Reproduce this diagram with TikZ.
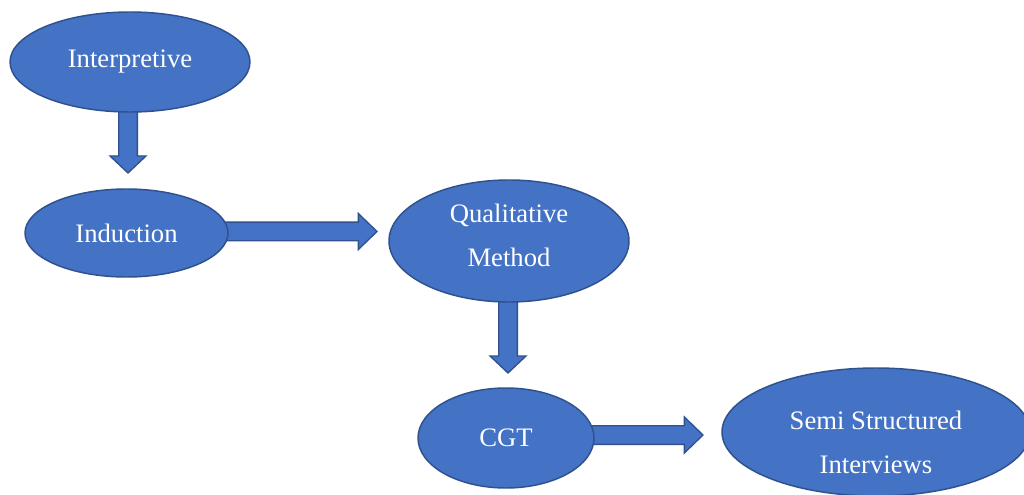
\documentclass[tikz,border=0pt]{standalone}
\usepackage{fontspec}
\setmainfont{Liberation Serif}
\usetikzlibrary{calc,backgrounds,shapes.geometric}

\definecolor{bubblefill}{HTML}{4472C4}
\definecolor{bubbleline}{HTML}{2F528F}

\tikzset{
  bubble/.style={ellipse, draw=bubbleline, line width=1.1pt, fill=bubblefill,
    inner sep=0pt, text=white, align=center,
    font=\fontsize{20}{33}\selectfont},
  bubbletext/.style={text=white, align=center, inner sep=0pt,
    font=\fontsize{20}{33}\selectfont},
  blockarrow/.style={draw=bubbleline, fill=bubblefill, line width=1pt, line join=miter},
}

% block arrow pointing down: shaft starts at the centre of #1, tip at #2
\newcommand\blockdown[2]{%
  \draw[blockarrow] let \p1=(#1), \p2=(#2) in
    (\x2-7pt,\y1) -- (\x2-7pt,\y2+12.75pt) -- (\x2-13.5pt,\y2+12.75pt) -- (\x2,\y2)
    -- (\x2+13.5pt,\y2+12.75pt) -- (\x2+7pt,\y2+12.75pt) -- (\x2+7pt,\y1) -- cycle;}
% block arrow pointing right: shaft starts at the centre of #1, tip at #2
\newcommand\blockright[2]{%
  \draw[blockarrow] let \p1=(#1), \p2=(#2) in
    (\x1,\y2+7pt) -- (\x2-14pt,\y2+7pt) -- (\x2-14pt,\y2+13.5pt) -- (\x2,\y2)
    -- (\x2-14pt,\y2-13.5pt) -- (\x2-14pt,\y2-7pt) -- (\x1,\y2-7pt) -- cycle;}

\begin{document}
\begin{tikzpicture}[x=0.75pt, y=-0.75pt]
  \useasboundingbox (0,0) rectangle (1024,495);

  % stages
  \node[bubble, minimum width=180pt, minimum height=75pt] (interp) at (130,62) {Interpretive};
  \node[bubble, minimum width=152.25pt, minimum height=66pt] (induc) at (126.5,233) {Induction};
  \node[bubble, minimum width=180pt, minimum height=91.5pt,
        label={[bubbletext, yshift=4.5pt]center:Qualitative\\Method}] (qual) at (509,241) {};
  \node[bubble, minimum width=132pt, minimum height=75pt] (cgt) at (506,438) {CGT};
  \node[bubble, minimum width=231pt, minimum height=96pt,
        label={[bubbletext, yshift=-7.5pt]center:Semi Structured\\Interviews}] (semi) at (876,432) {};

  % arrow tips
  \coordinate (tipA) at (128,173);
  \coordinate (tipB) at (377,231.5);
  \coordinate (tipC) at (508,373);
  \coordinate (tipD) at (703,435);

  \begin{scope}[on background layer]
    \fill[white] (0,0) rectangle (1024,495);
    \blockdown{interp}{tipA}
    \blockright{induc}{tipB}
    \blockdown{qual}{tipC}
    \blockright{cgt}{tipD}
  \end{scope}
\end{tikzpicture}
\end{document}
